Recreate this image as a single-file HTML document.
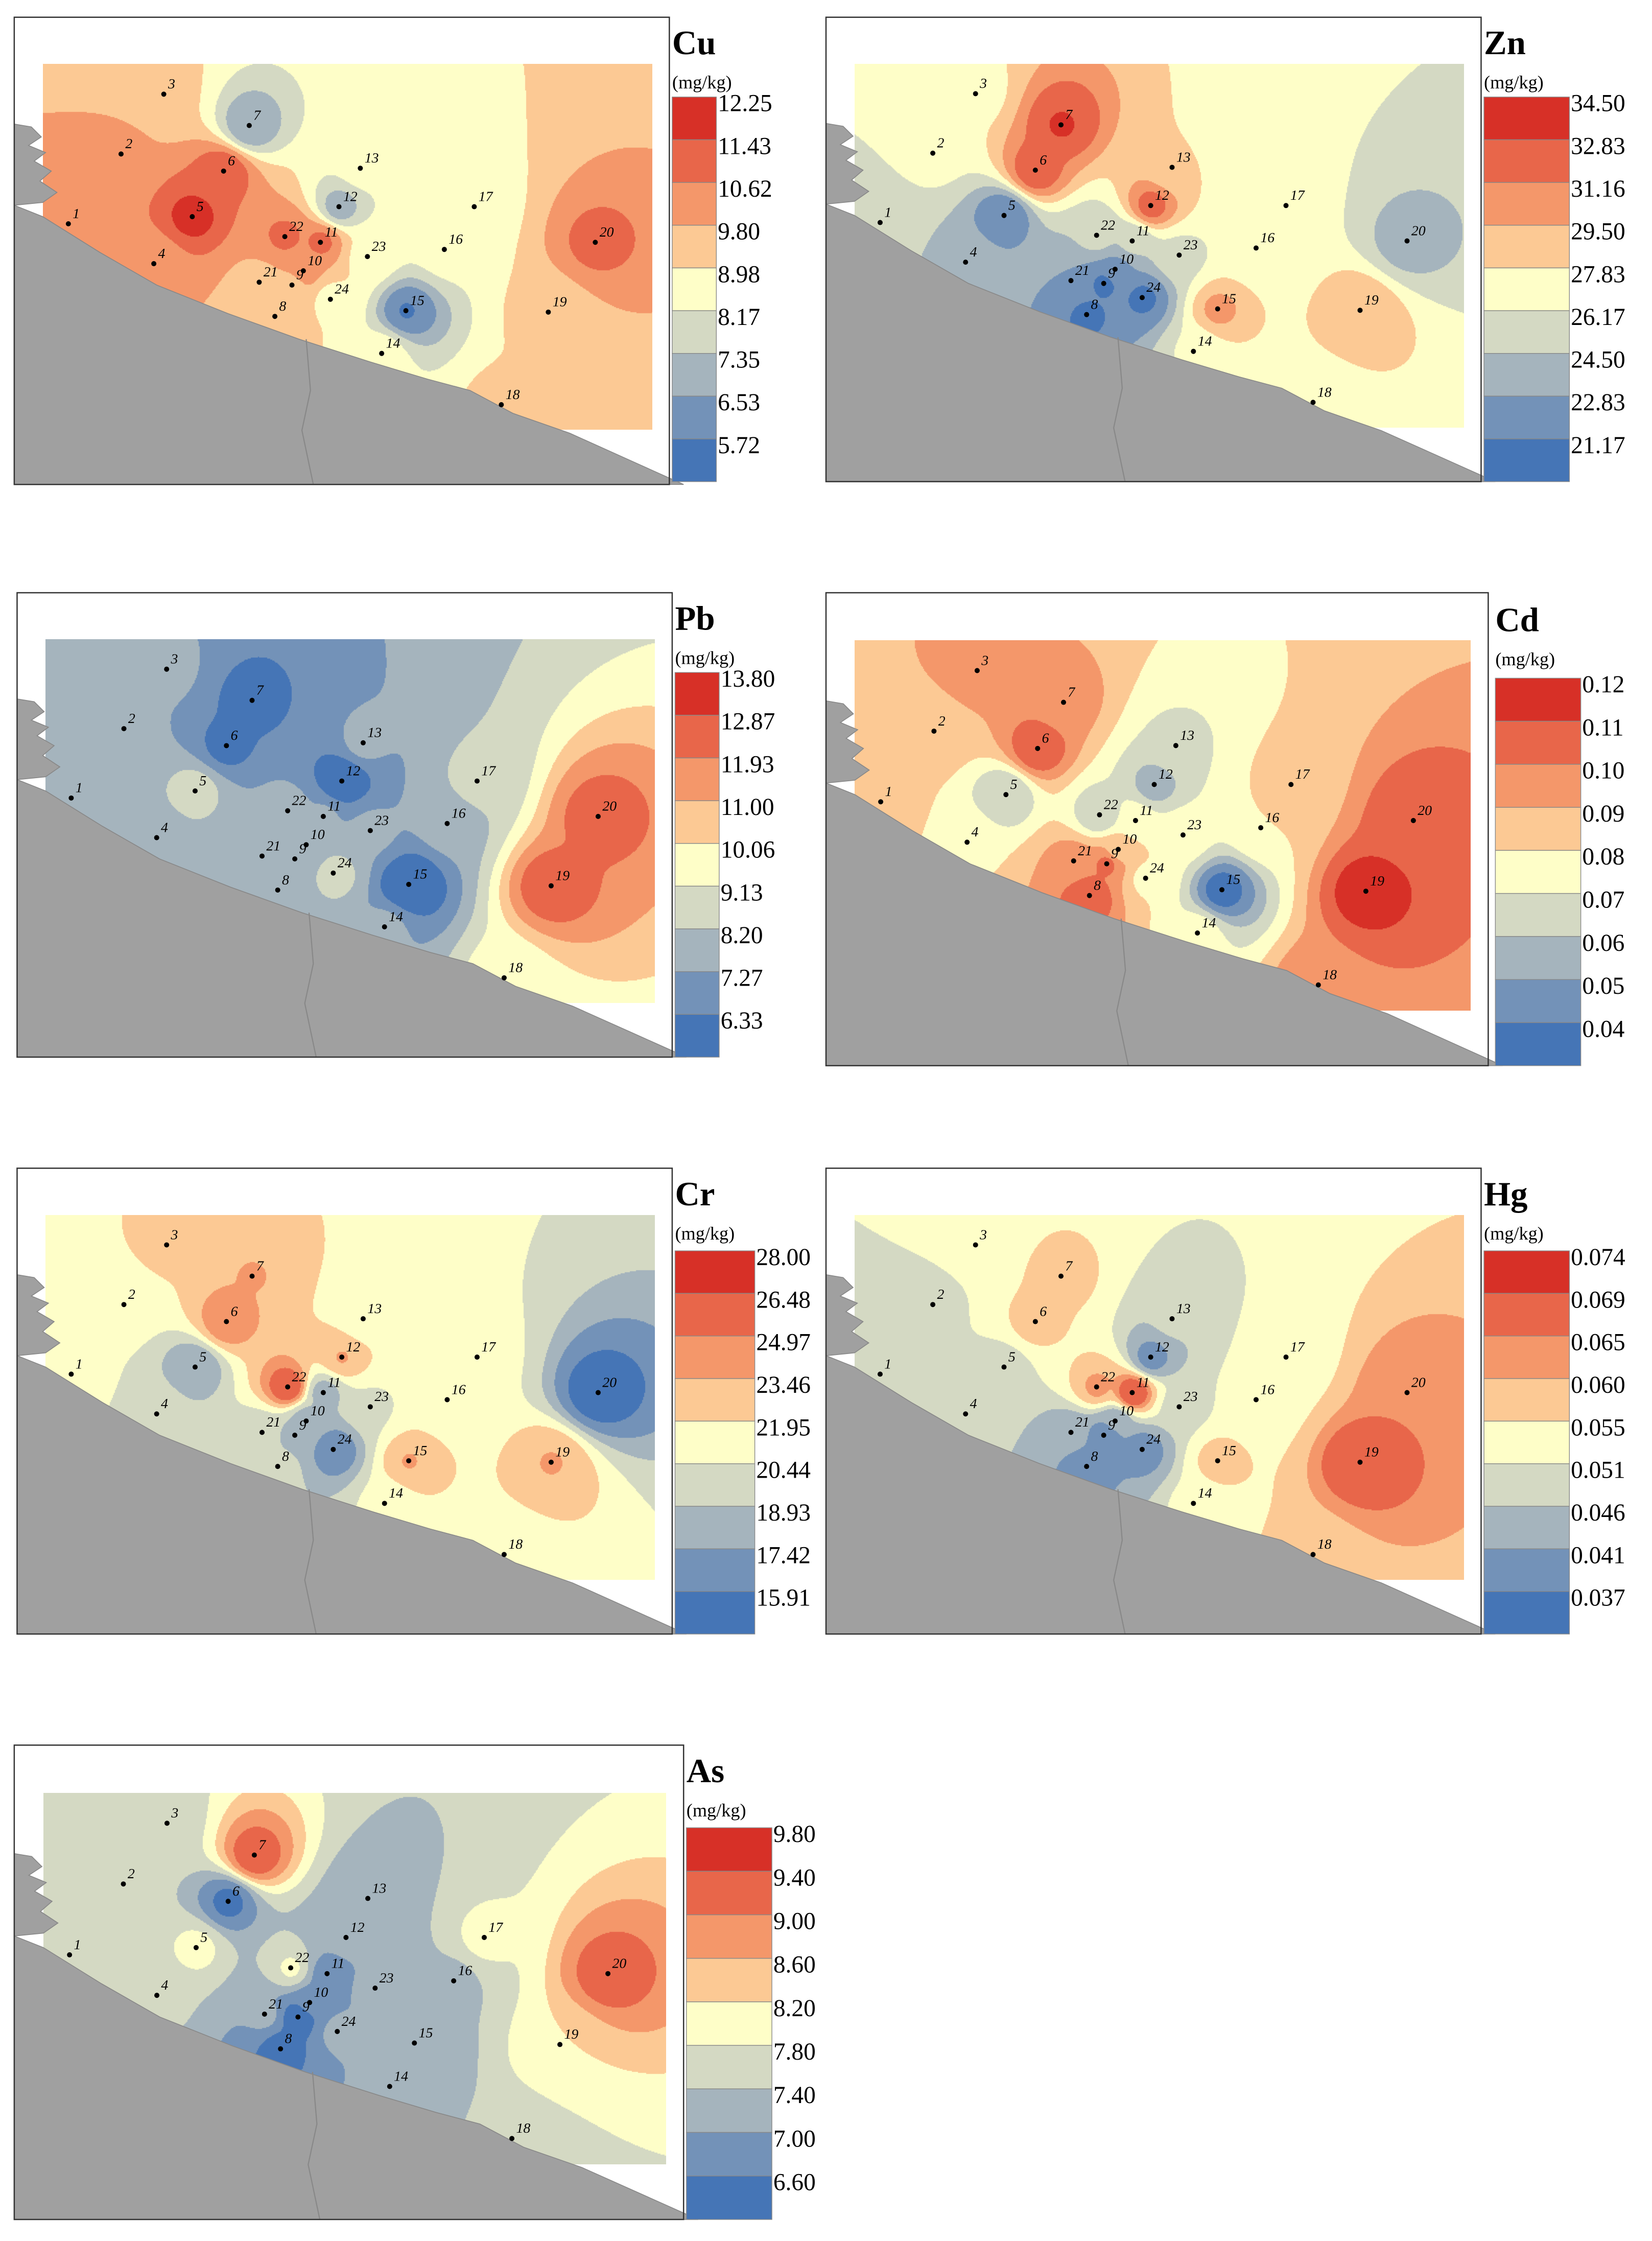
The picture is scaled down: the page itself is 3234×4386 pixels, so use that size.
<!DOCTYPE html>
<html><head><meta charset="utf-8">
<style>
html,body{margin:0;padding:0;background:#fff;}
#root{position:relative;width:3234px;height:4386px;overflow:hidden;background:#fff;}
canvas{position:absolute;}
#ov{position:absolute;left:0;top:0;}
text{font-family:"Liberation Serif",serif;}
</style></head>
<body>
<div id="root">
<svg id="ov" width="3234" height="4386" viewBox="0 0 1160 1573"></svg>
</div>
<script>
const S = 3234/1160;
const COLORS = ["#d73027","#e8664a","#f4976a","#fcc994","#fefec8","#d4d9c3","#a5b4bd","#7392b8","#4575b6"];
// sample site coordinates relative to each panel frame (map units)
const siteX = [38,75,105,98,125,147,165,183,195,203,215,228,243,258,275,302,323,342,375,408,172,190,248,222];
const siteY = [145,96,54,173,140,108,76,210,188,178,158,133,106,236,206,163,133,272,207,158,186,154,168,198];
// element values at sites 1..24
const cuVals = [10.8,10.8,10.0,10.8,12.5,12.0,7.5,10.0,10.4,11.0,11.6,7.8,9.3,9.4,6.5,9.3,9.5,10.0,10.1,11.6,10.4,11.6,9.5,9.5];
const znVals = [27,28.3,29,25.5,23,34,34.6,22.5,22.5,24,26.5,33.5,29.5,28,31.5,28.3,28.3,28.6,31,25.5,24.5,26.8,27.5,22.5];
const pbVals = [8.7,8.4,8.4,8.7,9.5,7.0,6.9,8.6,8.3,8.3,8.3,6.2,8.4,8.4,6.0,8.6,9.4,10.5,13.5,13.3,8.5,8.5,8.4,9.6];
const cdVals = [0.093,0.095,0.105,0.088,0.07,0.118,0.105,0.118,0.112,0.095,0.085,0.065,0.078,0.085,0.045,0.09,0.095,0.108,0.125,0.118,0.105,0.07,0.085,0.088];
const crVals = [22.5,22.5,23.8,21.5,19.0,26.0,25,21,20,19.5,19.8,25,22.5,22.3,25,22.5,22.5,22.5,25,16.5,21,28,21.8,17.5];
const hgVals = [0.053,0.054,0.056,0.053,0.053,0.062,0.062,0.043,0.043,0.047,0.074,0.044,0.052,0.056,0.062,0.057,0.057,0.063,0.073,0.069,0.048,0.066,0.053,0.043];
const asVals = [7.9,7.9,8.0,7.9,8.3,6.9,9.7,6.8,6.7,7.2,7.2,7.5,7.5,7.5,7.55,7.7,8.3,7.9,8.6,9.6,7.5,8.25,7.5,7.5];
// legend break labels (top to bottom)
const cuTicks = ["12.25","11.43","10.62","9.80","8.98","8.17","7.35","6.53","5.72"];
const znTicks = ["34.50","32.83","31.16","29.50","27.83","26.17","24.50","22.83","21.17"];
const pbTicks = ["13.80","12.87","11.93","11.00","10.06","9.13","8.20","7.27","6.33"];
const cdTicks = ["0.12","0.11","0.10","0.09","0.08","0.07","0.06","0.05","0.04"];
const crTicks = ["28.00","26.48","24.97","23.46","21.95","20.44","18.93","17.42","15.91"];
const hgTicks = ["0.074","0.069","0.065","0.060","0.055","0.051","0.046","0.041","0.037"];
const asTicks = ["9.80","9.40","9.00","8.60","8.20","7.80","7.40","7.00","6.60"];

const panels = [
 {name:"Cu",vals:cuVals,ticks:cuTicks,fx:10,fy:12,fw:460,fh:328,lx:472,lw:31,lt:68,lb:338,ty:38},
 {name:"Zn",vals:znVals,ticks:znTicks,fx:580,fy:12,fw:460,fh:326,lx:1042,lw:60,lt:68,lb:338,ty:38},
 {name:"Pb",vals:pbVals,ticks:pbTicks,fx:12,fy:416,fw:460,fh:326,lx:474,lw:31,lt:472,lb:742,ty:442},
 {name:"Cd",vals:cdVals,ticks:cdTicks,fx:580,fy:416,fw:465,fh:332,lx:1050,lw:60,lt:476,lb:748,ty:443},
 {name:"Cr",vals:crVals,ticks:crTicks,fx:12,fy:820,fw:460,fh:327,lx:474,lw:56,lt:878,lb:1147,ty:846},
 {name:"Hg",vals:hgVals,ticks:hgTicks,fx:580,fy:820,fw:460,fh:327,lx:1042,lw:60,lt:878,lb:1147,ty:846},
 {name:"As",vals:asVals,ticks:asTicks,fx:10,fy:1225,fw:470,fh:333,lx:482,lw:60,lt:1283,lb:1558,ty:1251}
];
const NS="http://www.w3.org/2000/svg";
const svg=document.getElementById('ov');
const root=document.getElementById('root');
function mk(tag,attrs,parent){const e=document.createElementNS(NS,tag);for(const k in attrs)e.setAttribute(k,attrs[k]);(parent||svg).appendChild(e);return e;}
function classOf(v,ticks){for(let k=0;k<ticks.length;k++){if(v>=parseFloat(ticks[k]))return k;}return ticks.length-1;}
function hex(c){return [parseInt(c.slice(1,3),16),parseInt(c.slice(3,5),16),parseInt(c.slice(5,7),16)];}
const RGB=COLORS.map(hex);
const land=[[0,132],[20,140],[60,165],[100,188],[150,208],[200,226],[250,242],[290,254],[320,262],[350,278],[390,292],[430,310],[470,330],[470,340],[0,340]];
const pen=[[0,75],[12,77],[19,84],[10,90],[22,95],[14,101],[26,108],[18,115],[30,123],[20,130],[0,132]];

panels.forEach(p=>{
  const sx=p.fw/460, sy=p.fh/328;
  const rx=20*sx, ry=33*sy, rw=428*sx, rh=257*sy;
  const cv=document.createElement('canvas');
  const W=Math.round(rw*S), H=Math.round(rh*S);
  cv.width=W; cv.height=H;
  cv.style.left=((p.fx+rx)*S)+'px'; cv.style.top=((p.fy+ry)*S)+'px';
  
  
  root.insertBefore(cv,svg);
  const ctx=cv.getContext('2d');
  const img=ctx.createImageData(W,H);
  const px=siteX.map(x=>x*sx-rx), py=siteY.map(y=>y*sy-ry);
  const step=2;
  for(let j=0;j<H;j+=step){for(let i=0;i<W;i+=step){
    const mx=i/S, my=j/S; let num=0,den=0,exact=-1;
    for(let k=0;k<px.length;k++){const dx=mx-px[k],dy=my-py[k];const d2=dx*dx+dy*dy;
      if(d2<0.01){exact=k;break;} const w=1/(d2*Math.sqrt(d2)); num+=w*p.vals[k]; den+=w;}
    const v= exact>=0? p.vals[exact] : num/den;
    const c=RGB[classOf(v,p.ticks)];
    for(let b=0;b<step&&j+b<H;b++)for(let a=0;a<step&&i+a<W;a++){const o=((j+b)*W+i+a)*4;img.data[o]=c[0];img.data[o+1]=c[1];img.data[o+2]=c[2];img.data[o+3]=255;}
  }}
  ctx.putImageData(img,0,0);

  const g=mk('g',{transform:`translate(${p.fx},${p.fy})`});
  
  
  const toPts=a=>a.map(q=>`${q[0]*sx},${Math.min(q[1]*sy,p.fh)}`).join(' ');
  const ld=mk('polygon',{points:toPts(land),fill:'#a0a0a0',stroke:'#888','stroke-width':0.6},g);
  
  
  mk('polygon',{points:toPts(pen),fill:'#a0a0a0',stroke:'#888','stroke-width':0.6},g);
  mk('polyline',{points:`${205*sx},${226*sy} ${208*sx},${262*sy} ${202*sx},${290*sy} ${210*sx},${p.fh}`,fill:'none',stroke:'#888','stroke-width':0.8},g);
  const fr=mk('rect',{x:0,y:0,width:p.fw,height:p.fh,fill:'none',stroke:'#333','stroke-width':0.9},g);
  
  
  siteX.forEach((x,k)=>{
    const c=mk('circle',{cx:x*sx,cy:siteY[k]*sy,r:1.8,fill:'#000'},g);
    
    
    const t=mk('text',{x:x*sx+3,y:siteY[k]*sy-4,'font-size':10,'font-style':'italic',fill:'#000'},g);
    t.textContent=String(k+1);
    
    
  });
  const lg=mk('g',{});
  
  
  const tt=mk('text',{x:p.lx,y:p.ty,'font-size':24,'font-weight':'bold',fill:'#000'},lg);
  tt.textContent=p.name;
  
  
  const un=mk('text',{x:p.lx,y:p.ty+24,'font-size':13,fill:'#000'},lg);
  un.textContent='(mg/kg)';
  
  
  const bh=(p.lb-p.lt)/p.ticks.length;
  p.ticks.forEach((t,k)=>{
    const r=mk('rect',{x:p.lx,y:p.lt+k*bh,width:p.lw,height:bh,fill:COLORS[k],stroke:'#888','stroke-width':0.5},lg);
    
    
  });
  p.ticks.forEach((t,k)=>{
    const tx=mk('text',{x:p.lx+p.lw+1,y:p.lt+k*bh+10,'font-size':17,fill:'#000'},lg);
    tx.textContent=t;
    
    
  });
});
</script>
</body></html>
